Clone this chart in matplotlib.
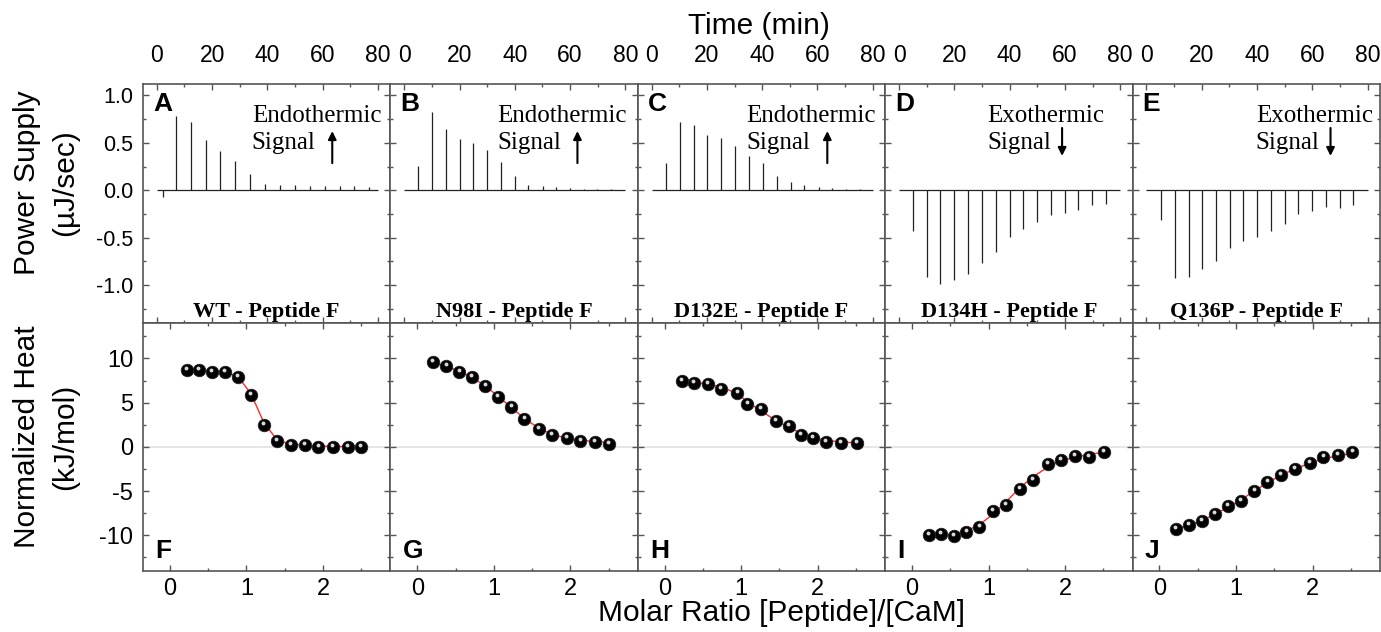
import matplotlib
matplotlib.use("Agg")
import matplotlib.pyplot as plt
import matplotlib.transforms as mtransforms
from matplotlib.ticker import MultipleLocator, FormatStrFormatter

plt.rcParams['font.family'] = ['Liberation Sans', 'DejaVu Sans']
plt.rcParams['axes.unicode_minus'] = False

# ---------------- data ----------------
titles = ['WT - Peptide F', 'N98I - Peptide F', 'D132E - Peptide F',
          'D134H - Peptide F', 'Q136P - Peptide F']
top_letters = ['A', 'B', 'C', 'D', 'E']
bottom_letters = ['F', 'G', 'H', 'I', 'J']
signal_text = ['Endothermic\nSignal', 'Endothermic\nSignal', 'Endothermic\nSignal',
               'Exothermic\nSignal', 'Exothermic\nSignal']
signal_up = [True, True, True, False, False]

# raw thermograms: injection times (min) and peak heights (uJ/sec)
inj_time_A = [2.2, 6.9, 12.3, 17.7, 22.9, 28.3, 33.7, 39.1, 44.5, 49.9, 55.3, 60.7, 66.1, 71.5, 76.6]
peak_A = [-0.07, 0.78, 0.72, 0.53, 0.41, 0.31, 0.17, 0.07, 0.05, 0.05, 0.04, 0.04, 0.04, 0.04, 0.03]
inj_time_B = [4.9, 9.9, 15.0, 20.0, 24.8, 29.9, 34.9, 39.9, 44.9, 50.2, 55.0, 60.0, 65.1, 69.9, 74.9]
peak_B = [0.26, 0.82, 0.65, 0.54, 0.50, 0.42, 0.30, 0.15, 0.05, 0.04, 0.03, 0.02, 0.01, 0.01, 0.01]
inj_time_C = [5.2, 10.3, 15.3, 20.2, 25.1, 30.1, 35.2, 40.2, 45.2, 50.3, 55.3, 60.4, 65.4, 70.4, 75.4]
peak_C = [0.29, 0.72, 0.69, 0.58, 0.55, 0.47, 0.36, 0.29, 0.15, 0.09, 0.05, 0.03, 0.02, 0.01, 0.01]
inj_time_D = [5.0, 10.1, 15.0, 20.0, 25.1, 30.1, 35.0, 40.0, 45.0, 49.9, 54.9, 59.9, 64.8, 69.8, 74.9]
peak_D = [-0.43, -0.91, -0.99, -0.95, -0.88, -0.77, -0.65, -0.49, -0.41, -0.33, -0.26, -0.24, -0.21, -0.16, -0.14]
inj_time_E = [5.2, 10.2, 15.3, 20.1, 25.2, 30.2, 35.0, 40.1, 45.1, 50.1, 54.9, 60.0, 65.0, 69.9, 74.9]
peak_E = [-0.31, -0.93, -0.91, -0.83, -0.75, -0.61, -0.54, -0.49, -0.43, -0.36, -0.25, -0.22, -0.18, -0.19, -0.16]

# integrated heats: molar ratio, normalized heat (kJ/mol), fit
ratio_F = [0.22, 0.38, 0.55, 0.72, 0.89, 1.06, 1.23, 1.40, 1.58, 1.76, 1.94, 2.13, 2.32, 2.50]
heat_F = [8.73, 8.73, 8.43, 8.43, 7.94, 5.81, 2.51, 0.64, 0.19, 0.19, 0.0, 0.0, 0.0, 0.0]
fit_F = [8.75, 8.72, 8.62, 8.45, 7.95, 6.0, 2.7, 0.8, 0.3, 0.15, 0.08, 0.05, 0.03, 0.02]

ratio_G = [0.21, 0.38, 0.55, 0.71, 0.89, 1.05, 1.23, 1.40, 1.59, 1.76, 1.95, 2.13, 2.32, 2.50]
heat_G = [9.55, 9.18, 8.50, 7.94, 6.93, 5.69, 4.49, 3.18, 2.06, 1.31, 1.05, 0.67, 0.56, 0.37]
fit_G = [9.55, 9.1, 8.55, 7.85, 6.9, 5.75, 4.45, 3.2, 2.1, 1.4, 1.0, 0.75, 0.6, 0.5]

ratio_H = [0.23, 0.38, 0.56, 0.74, 0.95, 1.08, 1.26, 1.45, 1.62, 1.78, 1.94, 2.11, 2.30, 2.51]
heat_H = [7.49, 7.19, 7.12, 6.52, 6.14, 4.87, 4.27, 2.88, 2.32, 1.31, 1.05, 0.60, 0.45, 0.45]
fit_H = [7.45, 7.3, 7.1, 6.75, 6.05, 5.1, 4.05, 3.0, 2.2, 1.55, 1.05, 0.75, 0.55, 0.45]

ratio_I = [0.22, 0.38, 0.55, 0.71, 0.88, 1.06, 1.23, 1.41, 1.58, 1.77, 1.94, 2.13, 2.31, 2.51]
heat_I = [-10.0, -9.81, -10.04, -9.59, -9.03, -7.23, -6.52, -4.72, -3.78, -1.91, -1.54, -1.01, -1.16, -0.56]
fit_I = [-10.2, -10.1, -9.9, -9.5, -8.8, -7.6, -6.2, -4.6, -3.4, -2.3, -1.6, -1.15, -0.85, -0.6]

ratio_J = [0.22, 0.38, 0.55, 0.72, 0.89, 1.06, 1.24, 1.41, 1.59, 1.77, 1.96, 2.14, 2.33, 2.52]
heat_J = [-9.25, -8.84, -8.39, -7.57, -6.74, -6.07, -4.98, -4.01, -3.18, -2.51, -1.80, -1.20, -0.90, -0.60]
fit_J = [-9.25, -8.85, -8.35, -7.65, -6.85, -6.0, -5.0, -4.05, -3.2, -2.5, -1.85, -1.35, -1.0, -0.75]

raw = [(inj_time_A, peak_A), (inj_time_B, peak_B), (inj_time_C, peak_C),
       (inj_time_D, peak_D), (inj_time_E, peak_E)]
isotherms = [(ratio_F, heat_F, fit_F), (ratio_G, heat_G, fit_G), (ratio_H, heat_H, fit_H),
             (ratio_I, heat_I, fit_I), (ratio_J, heat_J, fit_J)]

# text / arrow placement (axes fraction)
signal_x = [0.44, 0.433, 0.44, 0.413, 0.498]
arrow_x = [0.765, 0.756, 0.766, 0.715, 0.80]

# ---------------- figure ----------------
W, H = 1381, 632
fig = plt.figure(figsize=(W / 100, H / 100), dpi=100)

x0, pw = 143, 247.4
top_y0, top_y1 = 84, 323
bot_y0, bot_y1 = 323, 570.7
spine_col = '#555555'


def style_axes(ax):
    for s in ax.spines.values():
        s.set_color(spine_col)
        s.set_linewidth(1.2)
    ax.tick_params(which='both', direction='in', top=True, bottom=True,
                   left=True, right=True, color=spine_col, width=1.0)
    ax.tick_params(which='major', length=4)
    ax.tick_params(which='minor', length=2.5)


for i in range(5):
    left = (x0 + i * pw) / W
    ax_t = fig.add_axes([left, 1 - top_y1 / H, pw / W, (top_y1 - top_y0) / H])
    ax_b = fig.add_axes([left, 1 - bot_y1 / H, pw / W, (bot_y1 - bot_y0) / H])

    # ---- raw thermogram ----
    t, h = raw[i]
    ax_t.hlines(0, 0, 80, color='#222222', lw=0.9)
    ax_t.vlines(t, 0, h, color='#222222', lw=0.9)
    ax_t.set_xlim(-5, 84.5)
    ax_t.set_ylim(-1.4, 1.12)
    ax_t.xaxis.set_major_locator(MultipleLocator(20))
    ax_t.xaxis.set_minor_locator(MultipleLocator(10))
    ax_t.yaxis.set_major_locator(MultipleLocator(0.5))
    ax_t.yaxis.set_minor_locator(MultipleLocator(0.25))
    ax_t.yaxis.set_major_formatter(FormatStrFormatter('%.1f'))
    style_axes(ax_t)
    ax_t.tick_params(labeltop=True, labelbottom=False, labelleft=(i == 0))
    ax_t.tick_params(axis='x', labelsize=16.5, pad=12)
    ax_t.tick_params(axis='y', labelsize=15.5, pad=7)

    ax_t.text(0.04, 0.967, top_letters[i], transform=ax_t.transAxes, fontsize=19,
              fontweight='bold', ha='left', va='top')
    ax_t.text(0.5, 0.046, titles[i], transform=ax_t.transAxes, fontsize=16,
              fontweight='bold', family='Liberation Serif', ha='center', va='center')
    ax_t.text(signal_x[i], 0.728, signal_text[i], transform=ax_t.transAxes, fontsize=18,
              family='Liberation Serif', ha='left', va='baseline', linespacing=1.3)
    if signal_up[i]:
        tail, head = 0.669, 0.803
    else:
        tail, head = 0.816, 0.699
    ax_t.annotate('', xy=(arrow_x[i], head), xytext=(arrow_x[i], tail),
                  xycoords='axes fraction', textcoords='axes fraction',
                  arrowprops=dict(arrowstyle='-|>', lw=1.5, color='k',
                                  mutation_scale=12, shrinkA=0, shrinkB=0))

    # ---- isotherm ----
    r, q, fit = isotherms[i]
    ax_b.axhline(0, color='#e2e2e2', lw=1.2, zorder=1)
    ax_b.plot(r, fit, color='#ff2a2a', lw=1.0, zorder=2)
    ax_b.plot(r, q, 'o', ms=9, mfc='black', mec='#222222', mew=0.6, zorder=3)
    hl = mtransforms.offset_copy(ax_b.transData, fig=fig, x=-0.8, y=2.0, units='dots')
    ax_b.plot(r, q, 'o', ms=2.8, mfc='#d8d8d8', mec='none', transform=hl, zorder=4)
    ax_b.set_xlim(-0.35, 2.88)
    ax_b.set_ylim(-14, 14)
    ax_b.xaxis.set_major_locator(MultipleLocator(1))
    ax_b.xaxis.set_minor_locator(MultipleLocator(0.5))
    ax_b.yaxis.set_major_locator(MultipleLocator(5))
    ax_b.yaxis.set_minor_locator(MultipleLocator(2.5))
    style_axes(ax_b)
    ax_b.tick_params(labelbottom=True, labeltop=False, labelleft=(i == 0))
    ax_b.tick_params(axis='x', labelsize=17, pad=5)
    ax_b.tick_params(axis='y', labelsize=17, pad=7)
    ax_b.text(0.05, 0.051, bottom_letters[i], transform=ax_b.transAxes, fontsize=19,
              fontweight='bold', ha='left', va='baseline')

fig.text(759 / W, 1 - 26 / H, 'Time (min)', fontsize=21.5, ha='center', va='center')
fig.text(781 / W, 1 - 613 / H, 'Molar Ratio [Peptide]/[CaM]', fontsize=21.5,
         ha='center', va='center')
fig.text(46 / W, 1 - 183 / H, 'Power Supply\n(µJ/sec)', fontsize=21.5, rotation=90,
         ha='center', va='center', linespacing=1.45)
fig.text(46 / W, 1 - 437 / H, 'Normalized Heat\n(kJ/mol)', fontsize=21.5, rotation=90,
         ha='center', va='center', linespacing=1.45)

fig.savefig('out.png', dpi=100)
